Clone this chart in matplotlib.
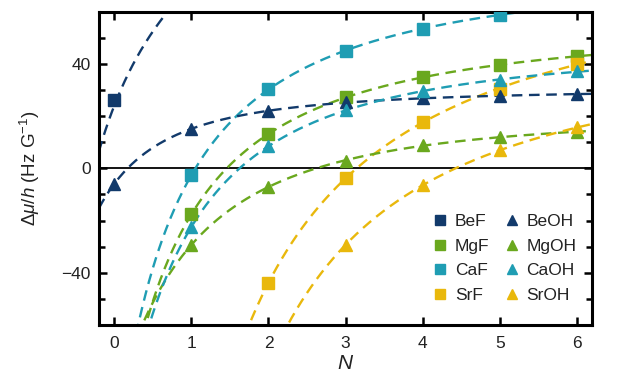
import numpy as np
import matplotlib
matplotlib.use("Agg")
import matplotlib.pyplot as plt
from matplotlib.lines import Line2D

plt.rcParams['font.family'] = ['Liberation Sans', 'DejaVu Sans']
plt.rcParams['mathtext.fontset'] = 'custom'
plt.rcParams['mathtext.rm'] = 'Liberation Sans'
plt.rcParams['mathtext.it'] = 'Liberation Sans:italic'

# rotational level N
N = [0, 1, 2, 3, 4, 5, 6]
nan = np.nan

# measured delta mu / h (Hz/G), nan = not shown
bef  = [26.3, nan, nan, nan, nan, nan, nan]
mgf  = [nan, -17.6, 13.2, 27.2, 35.0, 39.6, 43.0]
caf  = [nan, -2.4, 30.3, 45.1, 53.5, 58.9, nan]
srf  = [nan, nan, -43.8, -3.8, 17.9, 30.3, 40.0]
beoh = [-5.9, 15.2, 22.0, 25.3, 26.9, 27.8, 28.5]
mgoh = [nan, -29.3, -7.1, 3.0, 8.8, 11.9, 14.1]
caoh = [nan, -22.4, 8.4, 22.4, 29.7, 33.7, 37.3]
sroh = [nan, nan, nan, -29.3, -6.5, 6.9, 15.7]

# extra points (N, value)
bef_curve  = ([-0.14, 0.32, 0.65], [11.4, 42.0, 59.4])
caf_curve  = ([0.31], [-60.0])
srf_curve  = ([1.75], [-60.0])
sroh_curve = ([2.25], [-60.0])

navy, green, teal, gold = '#123a6b', '#6aa81e', '#1f9db3', '#e9b80c'


def fit_curve(x, y):
    # y = A - B/(x+c)^p, grid over c, p and least squares for A, B
    x = np.asarray(x, float)
    y = np.asarray(y, float)
    best = None
    for p in np.linspace(0.5, 3.0, 26):
        for c in np.linspace(0.3, 4.0, 75):
            if np.any(x + c <= 0.05):
                continue
            M = np.column_stack([np.ones_like(x), -1.0 / (x + c) ** p])
            coef, *_ = np.linalg.lstsq(M, y, rcond=None)
            r = np.sum((M @ coef - y) ** 2)
            if best is None or r < best[0]:
                best = (r, coef[0], coef[1], c, p)
    _, A, B, c, p = best
    return lambda t: A - B / (t + c) ** p


fig, ax = plt.subplots(figsize=(6.3, 3.84), dpi=100)
fig.subplots_adjust(left=0.157, right=0.940, top=0.969, bottom=0.154)

series = [
    ("BeF", bef, navy, 's', bef_curve),
    ("MgF", mgf, green, 's', None),
    ("CaF", caf, teal, 's', caf_curve),
    ("SrF", srf, gold, 's', srf_curve),
    ("BeOH", beoh, navy, '^', None),
    ("MgOH", mgoh, green, '^', None),
    ("CaOH", caoh, teal, '^', None),
    ("SrOH", sroh, gold, '^', sroh_curve),
]

xs = np.linspace(-0.2, 6.2, 600)
for name, vals, col, mk, extra in series:
    v = np.asarray(vals, float)
    ok = ~np.isnan(v)
    fx = list(np.asarray(N)[ok])
    fy = list(v[ok])
    if extra is not None:
        fx += extra[0]
        fy += extra[1]
    f = fit_curve(fx, fy)
    ax.plot(xs, f(xs), color=col, lw=1.7, dashes=(4.5, 2.8), zorder=2)
    ax.plot(np.asarray(N)[ok], v[ok], linestyle='none', marker=mk,
            color=col, markersize=9, zorder=3)

ax.axhline(0, color='black', lw=1.3, zorder=1)

ax.set_xlim(-0.2, 6.2)
ax.set_ylim(-60, 60)
ax.set_xticks(range(0, 7))
ax.set_yticks([-40, 0, 40])
ax.set_yticks(np.arange(-50, 60, 10), minor=True)
ax.set_yticklabels(['\u221240', '0', '40'])
ax.tick_params(which='both', direction='in', top=True, right=True,
               labelsize=12.5, width=1.8, labelcolor='#222222')
ax.tick_params(axis='x', pad=8)
ax.tick_params(axis='y', pad=6)
ax.tick_params(which='major', length=6)
ax.tick_params(which='minor', length=4)
for s in ax.spines.values():
    s.set_linewidth(2.2)

ax.set_xlabel(r"$\mathit{N}$", fontsize=15, labelpad=2, color='#222222')
ax.set_ylabel(r"$\mathit{\Delta\mu/h}\ \mathrm{(Hz\ G^{-1})}$", fontsize=13.5,
              labelpad=14, color='#222222')

handles = [Line2D([], [], linestyle='none', marker=mk, color=col, markersize=7)
           for name, vals, col, mk, extra in series]
labels = [s[0] for s in series]
ax.legend(handles, labels, ncol=2, frameon=False, loc='lower right',
          fontsize=12.5, handletextpad=0.15, handlelength=1.4,
          columnspacing=0.6, labelspacing=0.55,
          bbox_to_anchor=(1.0, 0.02), labelcolor='#222222')

fig.savefig("out.png", dpi=100)
